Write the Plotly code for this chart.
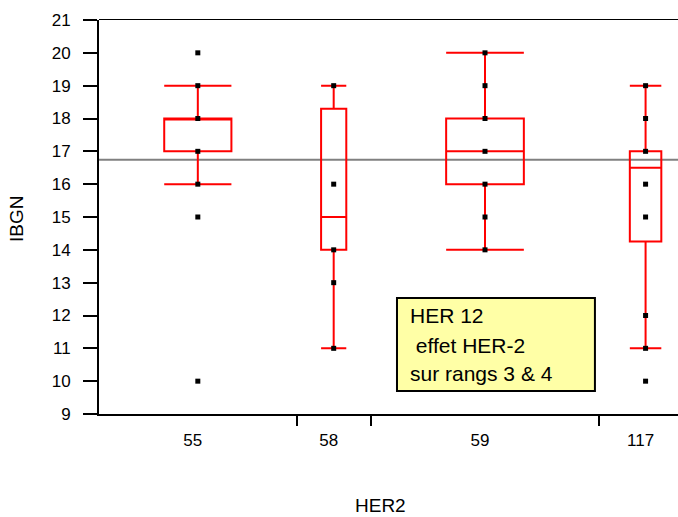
import plotly.graph_objects as go

# Groups of HER2 and the sample size of each (sets the width of each group)
groups = ["55", "58", "59", "117"]
group_n = [32, 12, 37, 15]

# Observed IBGN values per group
values_55 = [20, 19, 18, 17, 16, 15, 10]
values_58 = [19, 16, 14, 13, 11]
values_59 = [20, 19, 18, 17, 16, 15, 14]
values_117 = [19, 18, 17, 16, 15, 12, 11, 10]
group_values = [values_55, values_58, values_59, values_117]

# Quantile summaries per group
q1 = [17, 14, 16, 14.25]
median = [18, 15, 17, 16.5]
q3 = [18, 18.3, 18, 17]
lower_fence = [16, 11, 14, 11]
upper_fence = [19, 19, 20, 19]

grand_mean = 16.74

y_ticks = list(range(9, 22))

FONT = "Arial, Liberation Sans, sans-serif"

# Group boundaries and centres along the x axis (proportional to n)
bounds = [0]
for n in group_n:
    bounds.append(bounds[-1] + n)
centres = [(bounds[i] + bounds[i + 1]) / 2 for i in range(len(group_n))]
x_max = 93.75

fig = go.Figure()

for i, g in enumerate(groups):
    fig.add_trace(go.Box(
        x=[centres[i]], q1=[q1[i]], median=[median[i]], q3=[q3[i]],
        lowerfence=[lower_fence[i]], upperfence=[upper_fence[i]],
        width=0.34 * group_n[i], whiskerwidth=1,
        line=dict(color="#ff0000", width=2), fillcolor="rgba(0,0,0,0)",
        boxpoints=False, showlegend=False, hoverinfo="skip", name=g,
    ))

for i, g in enumerate(groups):
    fig.add_trace(go.Scatter(
        x=[centres[i]] * len(group_values[i]), y=group_values[i],
        mode="markers", marker=dict(symbol="square", size=5, color="black"),
        showlegend=False, name=g,
    ))

# Dummy trace on the overlay axis that carries the group-boundary ticks
fig.add_trace(go.Scatter(x=[None], y=[None], xaxis="x2", showlegend=False))

# Grand mean
fig.add_shape(type="line", xref="paper", yref="y", x0=0, x1=1,
              y0=grand_mean, y1=grand_mean,
              line=dict(color="#808080", width=2), layer="below")

# Top frame line
top = 1 + 0.5 / 394
fig.add_shape(type="line", xref="paper", yref="paper", x0=0, x1=1, y0=top, y1=top,
              line=dict(color="black", width=1))

# Note box
fig.add_shape(type="rect", xref="x", yref="y", x0=48.25, x1=80.3, y0=9.7, y1=12.53,
              fillcolor="#ffffa6", line=dict(color="black", width=2))
note_lines = ["HER 12", "\u00a0effet HER-2", "sur rangs 3 & 4"]
note_y = [12.0, 11.09, 10.24]
for txt, yy in zip(note_lines, note_y):
    fig.add_annotation(x=50, y=yy, xref="x", yref="y", text=txt, showarrow=False,
                       xanchor="left", yanchor="middle",
                       font=dict(family=FONT, size=21, color="black"))

# Axis titles
fig.add_annotation(x=(380 - 99) / 579, y=-0.232, xref="paper", yref="paper",
                   text="HER2", showarrow=False, xanchor="center", yanchor="middle",
                   font=dict(family=FONT, size=19, color="black"))
fig.add_annotation(x=(17 - 99) / 579, y=0.495, xref="paper", yref="paper",
                   text="IBGN", showarrow=False, textangle=-90,
                   xanchor="center", yanchor="middle",
                   font=dict(family=FONT, size=19, color="black"))

fig.update_layout(
    width=678, height=517,
    margin=dict(l=99, r=0, t=20, b=103),
    paper_bgcolor="white", plot_bgcolor="white",
    font=dict(family=FONT, size=17, color="black"),
    xaxis=dict(
        range=[0, x_max], tickvals=centres, ticktext=groups,
        ticks="", ticklabelstandoff=10, ticklabelshift=-5,
        showgrid=False, zeroline=False,
        showline=True, linecolor="black", linewidth=2,
        tickfont=dict(family=FONT, size=17, color="black"),
    ),
    xaxis2=dict(
        range=[0, x_max], overlaying="x", side="bottom",
        tickvals=bounds[1:-1], showticklabels=False,
        ticks="outside", ticklen=11, tickwidth=2, tickcolor="black",
        showgrid=False, zeroline=False, showline=False,
    ),
    yaxis=dict(
        range=[9, 21], tickvals=y_ticks,
        ticks="outside", ticklen=14, tickwidth=2, tickcolor="black",
        ticklabelstandoff=9,
        showgrid=False, zeroline=False,
        showline=True, linecolor="black", linewidth=2,
        tickfont=dict(family=FONT, size=17, color="black"),
    ),
)

fig.write_html("out.html")
